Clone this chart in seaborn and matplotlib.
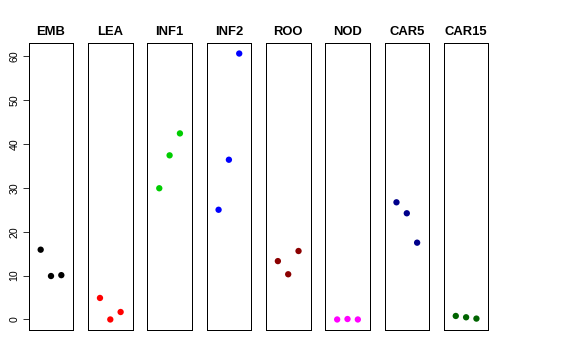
import matplotlib
matplotlib.use("Agg")
import matplotlib.pyplot as plt
import seaborn as sns
import pandas as pd

# tissues and their three replicate values
tissues = ["EMB", "LEA", "INF1", "INF2", "ROO", "NOD", "CAR5", "CAR15"]
emb = [15.9, 9.9, 10.1]
lea = [4.9, 0.0, 1.7]
inf1 = [29.9, 37.4, 42.4]
inf2 = [25.0, 36.4, 60.6]
roo = [13.3, 10.3, 15.6]
nod = [0.0, 0.1, 0.0]
car5 = [26.7, 24.2, 17.5]
car15 = [0.8, 0.5, 0.2]
colors = ["black", "#FF0000", "#00CD00", "#0000FF", "#8B0000", "#FF00FF", "#00008B", "#006400"]

values = [emb, lea, inf1, inf2, roo, nod, car5, car15]
rows = []
for t, vals in zip(tissues, values):
    for i, v in enumerate(vals):
        rows.append({"tissue": t, "rep": i + 1, "value": v})
df = pd.DataFrame(rows)

sns.set_style("white")
plt.rcParams['font.family'] = ['Liberation Sans', 'DejaVu Sans']
plt.rcParams['text.color'] = 'black'
plt.rcParams['ytick.color'] = 'black'

fig = plt.figure(figsize=(8, 5), dpi=72)
left0 = 28.7 / 576
width = 44.6 / 576
step = 59.3 / 576
bottom = 1 - 330 / 360
height = (330 - 43) / 360

for k, t in enumerate(tissues):
    ax = fig.add_axes([left0 + k * step, bottom, width, height])
    sub = df[df["tissue"] == t]
    sns.scatterplot(data=sub, x="rep", y="value", color=colors[k], s=40,
                    edgecolor="none", ax=ax, legend=False)
    ax.set_xlim(-0.16, 4.16)
    ax.set_ylim(-2.4, 63)
    ax.set_xticks([])
    ax.set_xlabel("")
    ax.set_ylabel("")
    ax.set_title(t, fontweight="bold", fontsize=13, pad=8, color="black")
    for sp in ax.spines.values():
        sp.set_color("black")
        sp.set_linewidth(1)
        sp.set_visible(True)
    if k == 0:
        ax.set_yticks([0, 10, 20, 30, 40, 50, 60])
        ax.tick_params(axis="y", left=True, length=6, width=0.8, labelsize=10.5,
                       pad=3, colors="black")
        for lab in ax.get_yticklabels():
            lab.set_rotation(90)
            lab.set_va("center")
    else:
        ax.set_yticks([])

fig.savefig("out.png", dpi=72)
